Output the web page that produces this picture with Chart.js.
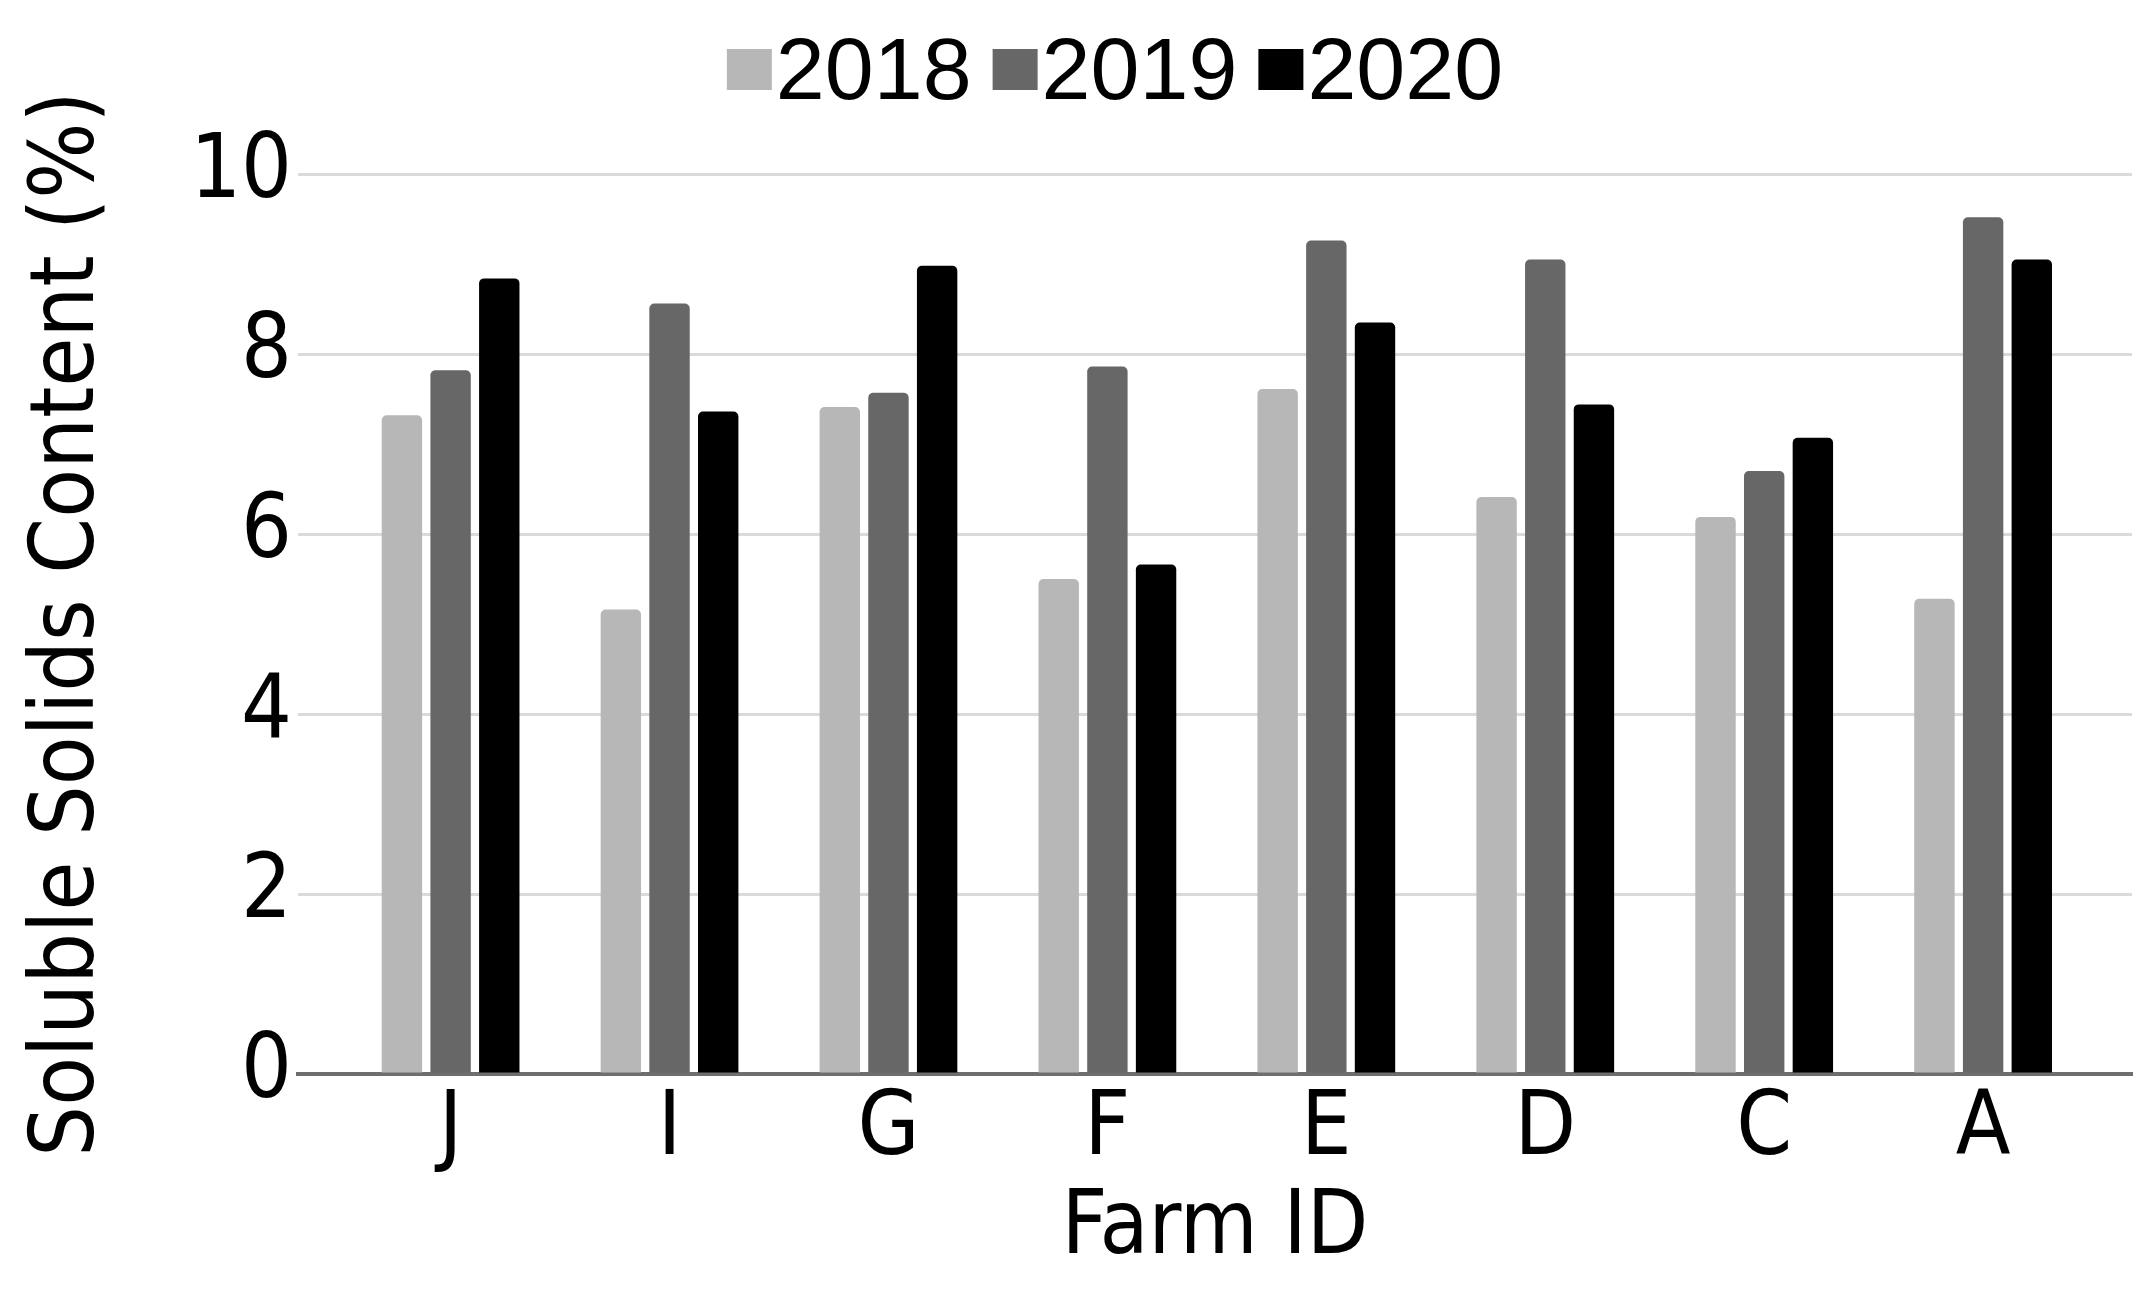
<!DOCTYPE html>
<html lang="en">
<head>
<meta charset="UTF-8">
<title>Soluble Solids Content by Farm</title>
<script src="https://cdn.jsdelivr.net/npm/chart.js"></script>
<style>
body {
  margin: 0;
  background: #fff;
}

#chart {
  display: block;
}
</style>
</head>
<body>

<canvas id="chart" width="2145" height="1290"></canvas>

<script>
// values (%)
const farms = ['J', 'I', 'G', 'F', 'E', 'D', 'C', 'A'];
const years = ['2018', '2019', '2020'];
const ssc2018 = [7.32, 5.16, 7.41, 5.50, 7.61, 6.41, 6.19, 5.28];
const ssc2019 = [7.82, 8.56, 7.57, 7.86, 9.26, 9.05, 6.70, 9.52];
const ssc2020 = [8.84, 7.36, 8.98, 5.66, 8.35, 7.44, 7.07, 9.05];
const yTicks = [0, 2, 4, 6, 8, 10];

const yearColors = ['#b7b7b7', '#676767', '#000000'];
const series = [ssc2018, ssc2019, ssc2020];

const textFont = { family: "'DejaVu Sans Condensed', 'DejaVu Sans', sans-serif", size: 89 };

// legend drawn by hand: the built-in one puts half a font size between box and text
const tightLegend = {
  id: 'tightLegend',
  afterDraw(chart) {
    const ctx = chart.ctx;
    const box = 45, gap = 4, spacing = 21;
    ctx.save();
    ctx.font = "88px 'Liberation Sans', Arial, sans-serif";
    ctx.textBaseline = 'alphabetic';
    const items = chart.data.datasets.map(ds => ({
      text: ds.label,
      color: ds.backgroundColor,
      w: ctx.measureText(ds.label).width
    }));
    const total = items.reduce((s, it) => s + box + gap + it.w, 0) + spacing * (items.length - 1);
    let x = 1115 - total / 2;
    items.forEach(it => {
      ctx.fillStyle = it.color;
      ctx.fillRect(x, 49, box, 41);
      ctx.fillStyle = '#000';
      ctx.fillText(it.text, x + box + gap, 99);
      x += box + gap + it.w + spacing;
    });
    ctx.restore();
  }
};

new Chart(document.getElementById('chart'), {
  type: 'bar',
  data: {
    datasets: years.map((y, k) => ({
      label: y,
      data: series[k].map((v, i) => ({ x: i, y: v })),
      backgroundColor: yearColors[k],
      borderRadius: 5,
      categoryPercentage: 0.667,
      barPercentage: 0.83
    }))
  },
  options: {
    responsive: false,
    animation: false,
    layout: { padding: { top: 174, right: 13, bottom: 0, left: 0 } },
    plugins: {
      legend: { display: false },
      tooltip: { enabled: false }
    },
    scales: {
      x: {
        type: 'linear',
        offset: false,
        min: -0.697,
        max: 7.68,
        afterBuildTicks: s => { s.ticks = farms.map((_, i) => ({ value: i })); },
        afterFit: s => { s.height = 216; },
        grid: { display: false, drawTicks: false },
        border: { display: true, color: '#6e6e6e', width: 4 },
        ticks: {
          callback: v => farms[v],
          font: textFont,
          color: '#000',
          padding: 3,
          maxRotation: 0,
          autoSkip: false
        },
        title: {
          display: true,
          text: 'Farm ID',
          font: textFont,
          color: '#000',
          padding: { top: 0, bottom: 7 }
        }
      },
      y: {
        min: 0,
        max: 10,
        afterBuildTicks: s => { s.ticks = yTicks.map(v => ({ value: v })); },
        afterFit: s => { s.width = 298; },
        grid: { color: '#dadada', lineWidth: 3, drawTicks: false },
        border: { display: false },
        ticks: { font: textFont, color: '#000', padding: 6 },
        title: {
          display: true,
          text: 'Soluble Solids Content (%)',
          font: textFont,
          color: '#000',
          padding: { top: 16, bottom: 0 }
        }
      }
    }
  },
  plugins: [tightLegend]
});
</script>

</body>
</html>
